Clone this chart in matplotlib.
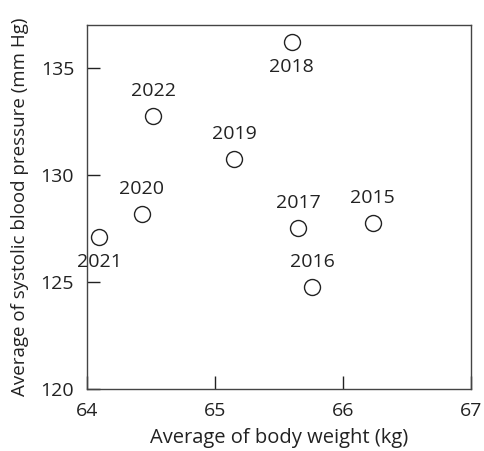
import matplotlib
matplotlib.use("Agg")
from matplotlib import pyplot as plt

plt.rcParams["font.family"] = ["Open Sans", "DejaVu Sans"]

years = ["2015", "2016", "2017", "2018", "2019", "2020", "2021", "2022"]
weight = [66.23, 65.76, 65.65, 65.60, 65.15, 64.43, 64.10, 64.52]
pressure = [127.77, 124.76, 127.53, 136.2, 130.74, 128.17, 127.11, 132.74]
below = ["2018", "2021"]

fig = plt.figure(figsize=(4.84, 4.51), dpi=100)
ax = fig.add_axes([0.179, 0.137, 0.795, 0.808])

ax.plot(weight, pressure, "o", markersize=11.5, markerfacecolor="white",
        markeredgecolor="#222222", markeredgewidth=1.0, linestyle="none")

for yr, x, y in zip(years, weight, pressure):
    dy = -18 if yr in below else 18
    ax.annotate(yr, (x, y), xytext=(0, dy), textcoords="offset points",
                ha="center", va="center", fontsize=14, color="#222222")

ax.set_xlim(64, 67)
ax.set_ylim(120, 137)
ax.set_xticks([64, 65, 66, 67])
ax.set_yticks([120, 125, 130, 135])
ax.tick_params(direction="in", length=9.5, width=1, labelsize=14,
               colors="#222222")
ax.tick_params(axis="x", pad=9)
ax.tick_params(axis="y", pad=9)
for s in ax.spines.values():
    s.set_color("#444444")
    s.set_linewidth(1)

ax.set_xlabel("Average of body weight (kg)", fontsize=14.5, color="#222222", labelpad=6)
ax.set_ylabel("Average of systolic blood pressure (mm Hg)", fontsize=13.5,
              color="#222222", labelpad=8)

fig.savefig("out.png", dpi=100)
